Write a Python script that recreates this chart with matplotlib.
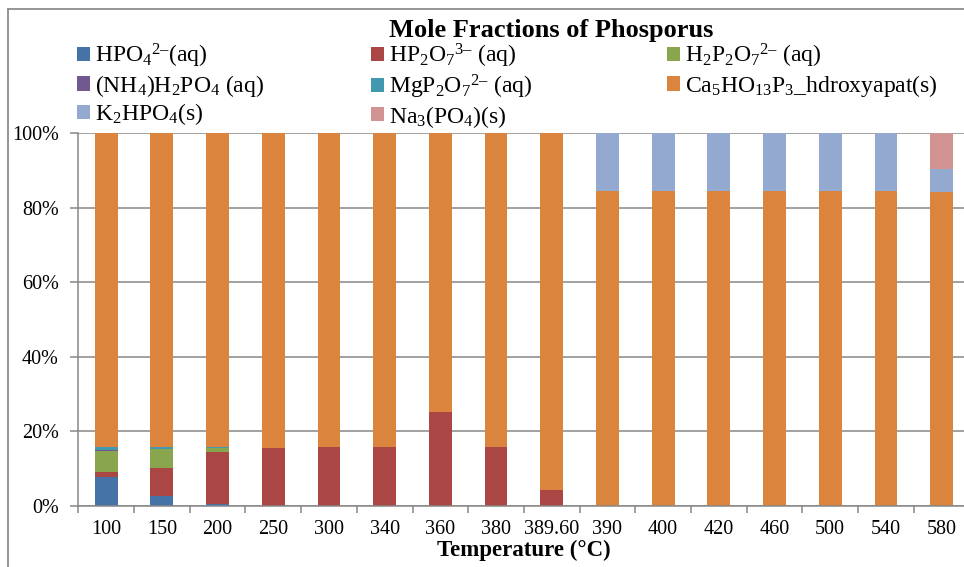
import numpy as np
import matplotlib
matplotlib.use("Agg")
import matplotlib.pyplot as plt
from matplotlib.lines import Line2D
from matplotlib.ticker import FixedLocator, FuncFormatter

plt.rcParams['font.family'] = ['Liberation Serif', 'DejaVu Serif']
plt.rcParams['mathtext.fontset'] = 'custom'
plt.rcParams['mathtext.rm'] = 'Liberation Serif'
plt.rcParams['mathtext.it'] = 'Liberation Serif:italic'
plt.rcParams['mathtext.bf'] = 'Liberation Serif:bold'

# temperatures (category labels)
temps = ['100', '150', '200', '250', '300', '340', '360', '380', '389.60',
         '390', '400', '420', '460', '500', '540', '580']

# mole fractions of phosphorus, percent
hpo4 = [7.7, 2.8, 0.5, 0, 0, 0, 0, 0, 0, 0, 0, 0, 0, 0, 0, 0]
hp2o7 = [1.5, 7.3, 13.9, 15.5, 15.7, 15.7, 25.1, 15.7, 4.3, 0, 0, 0, 0, 0, 0, 0]
h2p2o7 = [5.6, 5.2, 1.2, 0, 0, 0, 0, 0, 0, 0, 0, 0, 0, 0, 0, 0]
nh4h2po4 = [0.3, 0.1, 0, 0, 0, 0, 0, 0, 0, 0, 0, 0, 0, 0, 0, 0]
mgp2o7 = [0.6, 0.4, 0.1, 0, 0, 0, 0, 0, 0, 0, 0, 0, 0, 0, 0, 0]
ca5 = [84.3, 84.2, 84.3, 84.5, 84.3, 84.3, 74.9, 84.3, 95.7,
       84.4, 84.4, 84.4, 84.4, 84.4, 84.4, 84.3]
k2hpo4 = [0, 0, 0, 0, 0, 0, 0, 0, 0, 15.6, 15.6, 15.6, 15.6, 15.6, 15.6, 6.0]
na3po4 = [0, 0, 0, 0, 0, 0, 0, 0, 0, 0, 0, 0, 0, 0, 0, 9.7]

series = [
    (r'HPO$_4$$^{2–}$(aq)', hpo4, '#4572A7'),
    (r'HP$_2$O$_7$$^{3–}$ (aq)', hp2o7, '#AA4643'),
    (r'H$_2$P$_2$O$_7$$^{2–}$ (aq)', h2p2o7, '#89A54E'),
    (r'(NH$_4$)H$_2$PO$_4$ (aq)', nh4h2po4, '#71588F'),
    (r'MgP$_2$O$_7$$^{2–}$ (aq)', mgp2o7, '#4198AF'),
    (r'Ca$_5$HO$_{13}$P$_3$_hdroxyapat(s)', ca5, '#DB843D'),
    (r'K$_2$HPO$_4$(s)', k2hpo4, '#93A9CF'),
    (r'Na$_3$(PO$_4$)(s)', na3po4, '#D19392'),
]

W, H = 964, 567
fig = plt.figure(figsize=(W / 100, H / 100), dpi=100)
ax = fig.add_axes([78.3 / W, 1 - 506 / H, (969.5 - 78.3) / W, (506 - 133) / H])

x = np.arange(len(temps))
bottom = np.zeros(len(temps))
handles = []
for name, vals, col in series:
    vals = np.array(vals, dtype=float)
    b = ax.bar(x, vals, 0.41, bottom=bottom, color=col, label=name, linewidth=0)
    handles.append(b)
    bottom += vals

gridc = '#878787'
ax.set_ylim(0, 100)
ax.set_xlim(-0.5, len(temps) - 0.5)
ax.set_yticks(np.arange(0, 101, 20))
ax.yaxis.set_major_formatter(FuncFormatter(lambda v, p: f'{int(v)}%'))
ax.yaxis.grid(True, color=gridc, linewidth=1.1)
ax.set_axisbelow(True)

ax.set_xticks(x)
ax.set_xticklabels(temps)
ax.xaxis.set_minor_locator(FixedLocator(np.arange(-0.5, len(temps), 1)))
ax.tick_params(axis='x', which='major', length=0, pad=10, labelsize=14.5)
ax.tick_params(axis='x', which='minor', length=5, width=1.1, color=gridc)
ax.tick_params(axis='y', length=6, width=1.1, color=gridc, pad=8, labelsize=14.5)

for s in ['top', 'right']:
    ax.spines[s].set_visible(False)
for s in ['left', 'bottom']:
    ax.spines[s].set_color(gridc)
    ax.spines[s].set_linewidth(1.1)

ax.set_xlabel('Temperature (°C)', fontsize=16.5, fontweight='bold', labelpad=0.5)

fig.text(551 / W, 1 - 37 / H, 'Mole Fractions of Phosporus', fontsize=19,
         fontweight='bold', ha='center', va='baseline')

# legend in three columns, Excel style (row-wise order)
cols = [[0, 3, 6], [1, 4, 7], [2, 5]]
col_x = [77, 371, 667]
for idx, cx in zip(cols, col_x):
    leg = fig.legend([handles[i] for i in idx], [series[i][0] for i in idx],
                     loc='upper left', bbox_to_anchor=(cx / W, 1 - 42 / H),
                     frameon=False, fontsize=17, handlelength=0.55,
                     handleheight=0.55, handletextpad=0.22, labelspacing=0.11,
                     borderpad=0, borderaxespad=0)

# chart area border
fig.add_artist(Line2D([8.3 / W, 8.3 / W], [-0.1, 1 - 9 / H], color='#8c8c8c', linewidth=1.3))
fig.add_artist(Line2D([8.3 / W, 1.1], [1 - 9 / H, 1 - 9 / H], color='#8c8c8c', linewidth=1.3))

fig.savefig('out.png', dpi=100)
